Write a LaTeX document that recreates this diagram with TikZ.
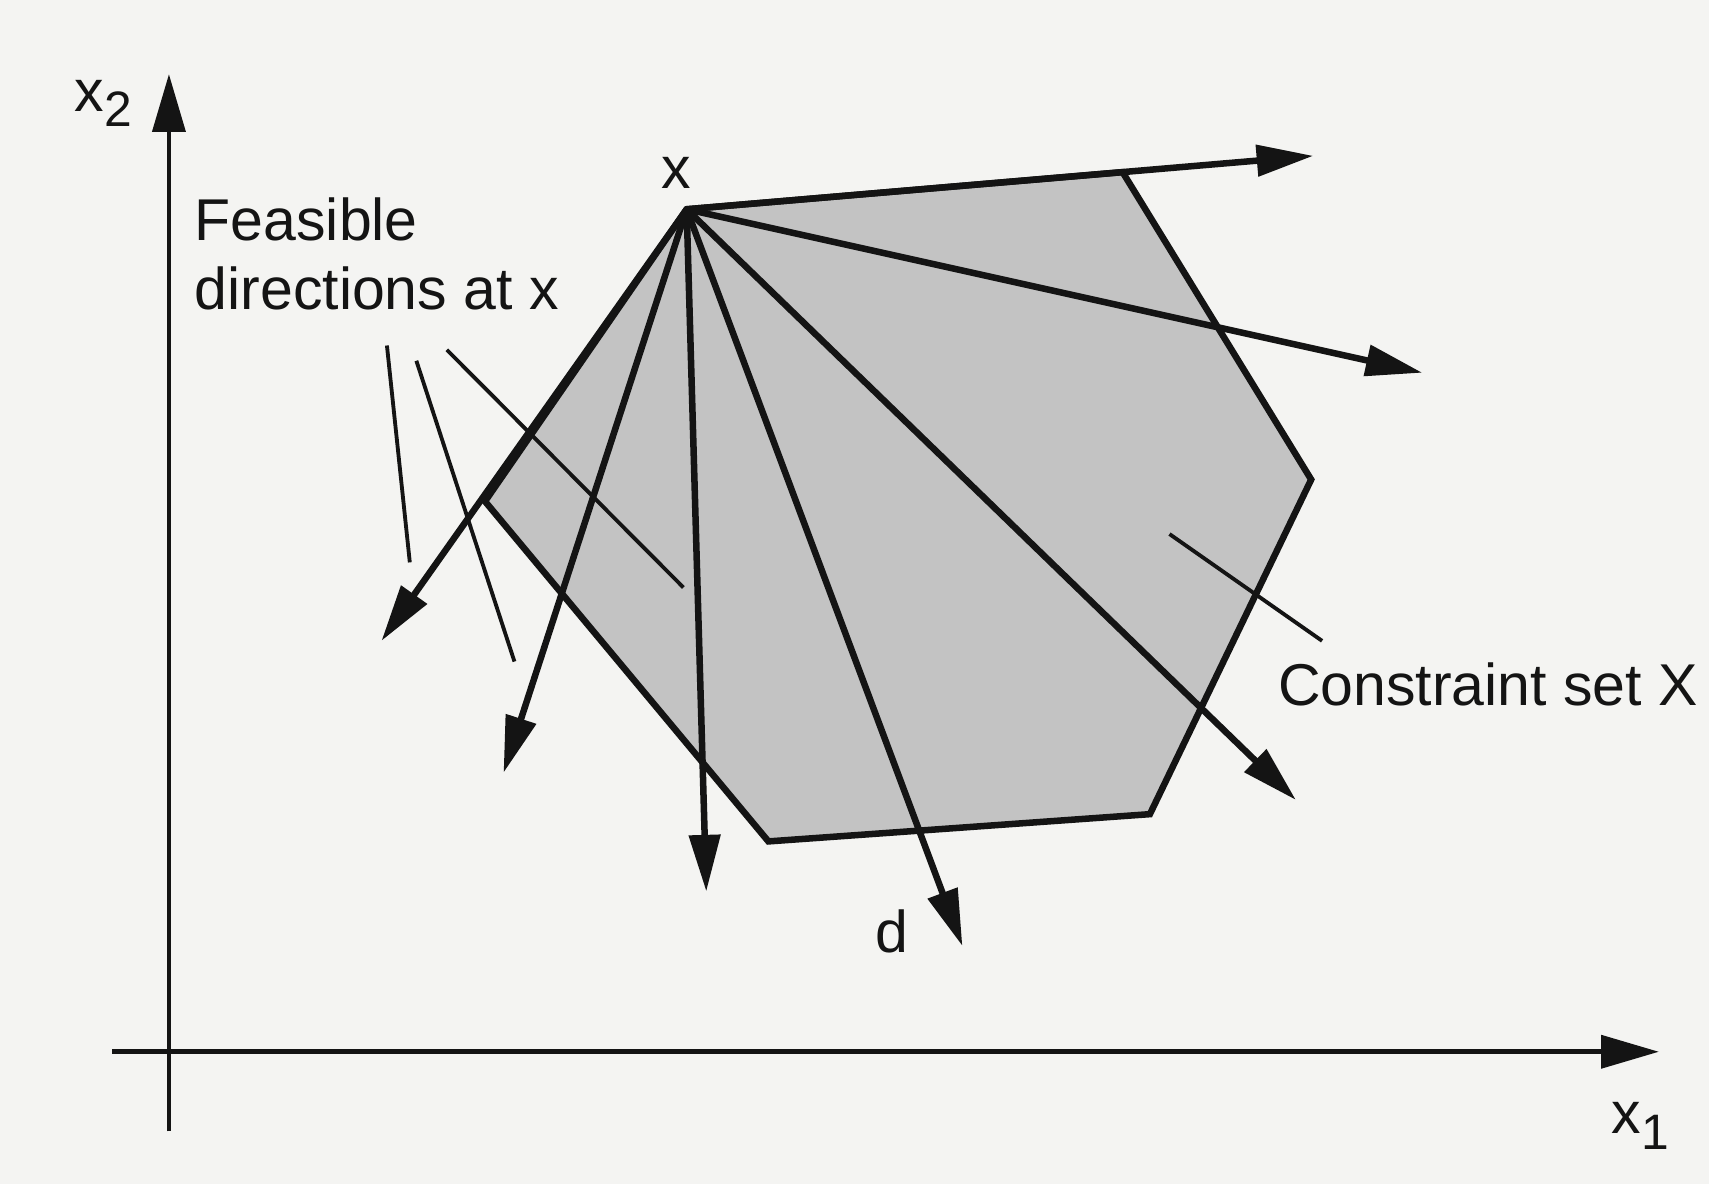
\documentclass[tikz,border=0pt]{standalone}
\usepackage{fontspec}
\setmainfont{Liberation Sans}
\usetikzlibrary{arrows.meta}
\definecolor{paper}{HTML}{F4F4F2}
\definecolor{shade}{HTML}{C3C3C3}
\definecolor{ink}{HTML}{141414}

\begin{document}
\begin{tikzpicture}[font=\fontsize{15.4}{18}\selectfont,
  ar/.style={-{Triangle[length=5.2mm,width=2.8mm]},line width=1.7pt,color=ink},
  axis/.style={-{Triangle[length=5.3mm,width=3mm]},line width=1.2pt,color=ink},
  lead/.style={line width=1pt,color=ink},
  setedge/.style={line width=1.7pt,draw=ink,fill=shade,line join=miter},
  lbl/.style={inner sep=0pt,text=ink}]
  \fill[paper] (0,0) rectangle (15.68,10.86);
  \useasboundingbox (0,0) rectangle (15.68,10.86);
  % axes
  \coordinate (ybot) at (1.55,0.48);
  \coordinate (ytop) at (1.55,10.18);
  \coordinate (xleft) at (1.03,1.21);
  \coordinate (xright) at (15.22,1.21);
  \draw[axis] (ybot) -- (ytop);
  \draw[axis] (xleft) -- (xright);
  \node[lbl] (xtwo) at (0.95,9.91) {x\raisebox{-0.5ex}{\fontsize{13}{13}\selectfont 2}};
  \node[lbl] (xone) at (15.05,0.53) {x\raisebox{-0.5ex}{\fontsize{13}{13}\selectfont 1}};
  % constraint set: hexagon with the point x at its upper left corner
  \coordinate (x)  at (6.30,8.94);
  \coordinate (v1) at (10.30,9.28);
  \coordinate (v2) at (12.03,6.46);
  \coordinate (v3) at (10.55,3.39);
  \coordinate (v4) at (7.05,3.14);
  \coordinate (v5) at (4.45,6.26);
  \filldraw[setedge] (x) -- (v1) -- (v2) -- (v3) -- (v4) -- (v5) -- cycle;
  % tips of the feasible directions
  \coordinate (t1) at (12.05,9.43);
  \coordinate (t2) at (13.05,7.44);
  \coordinate (t3) at (11.89,3.52);
  \coordinate (t4) at (8.83,2.18);
  \coordinate (t5) at (6.48,2.68);
  \coordinate (t6) at (4.62,3.77);
  \coordinate (t7) at (3.50,4.98);
  \foreach \t in {t1,t2,t3,t4,t5,t6,t7}
    \draw[ar] (x) -- (\t);
  % labels
  \node[lbl] (xlab) at (6.20,9.27) {x};
  \node[lbl] (dlab) at (8.18,2.31) {d};
  \node[lbl,anchor=west,align=left] (feas) at (1.78,8.53) {Feasible\\directions at x};
  \node[lbl,anchor=west] (cset) at (11.72,4.58) {Constraint set X};
  % leader lines
  \coordinate (fa) at (3.55,7.69);  \coordinate (fa') at (3.76,5.70);
  \coordinate (fb) at (3.82,7.55);  \coordinate (fb') at (4.72,4.79);
  \coordinate (fc) at (4.10,7.65);  \coordinate (fc') at (6.27,5.47);
  \coordinate (ca) at (12.13,4.98); \coordinate (ca') at (10.73,5.96);
  \draw[lead] (fa) -- (fa');
  \draw[lead] (fb) -- (fb');
  \draw[lead] (fc) -- (fc');
  \draw[lead] (ca) -- (ca');
\end{tikzpicture}
\end{document}
